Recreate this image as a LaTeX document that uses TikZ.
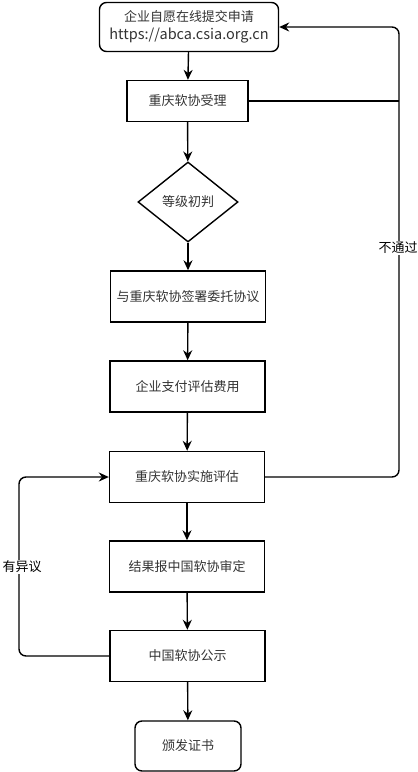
\documentclass[tikz,border=0pt]{standalone}
\usepackage{fontspec}
\setmainfont{Noto Sans CJK SC}
\usetikzlibrary{arrows.meta,shapes.geometric}

\begin{document}
\begin{tikzpicture}
        [x=1pt,y=-1pt,line width=1.4pt,
         every node/.style={font=\fontsize{13}{15}\selectfont,text=black!80},
         stepbox/.style={draw,minimum width=155pt,minimum height=51pt,inner sep=0},
         endbox/.style={draw,rounded corners=7pt,inner sep=0},
         judge/.style={draw,diamond,aspect=1.25,minimum width=100pt,minimum height=80pt,inner sep=0},
         flow/.style={-{Stealth[length=10pt,width=9pt]}},
         tag/.style={fill=white,inner sep=1pt,text=black}]

        \useasboundingbox (0,0) rectangle (418,772);

        \node[endbox,minimum width=179pt,minimum height=49pt,align=center] (apply) at (189, 27)
                {企业自愿在线提交申请\\[3pt]{\fontsize{14.5}{15}\selectfont https://abca.csia.org.cn}};
        \node[stepbox,minimum width=121pt,minimum height=41pt] (accept) at (187.5, 101) {重庆软协受理};
        \node[judge] (check) at (188, 202) {等级初判};
        \node[stepbox] (sign) at (188, 296.5) {与重庆软协签署委托协议};
        \node[stepbox] (pay) at (187.5, 386.5) {企业支付评估费用};
        \node[stepbox] (eval) at (187, 477) {重庆软协实施评估};
        \node[stepbox] (audit) at (187, 566.5) {结果报中国软协审定};
        \node[stepbox] (notice) at (187.5, 656) {中国软协公示};
        \node[endbox,minimum width=106pt,minimum height=50pt] (cert) at (188, 746) {颁发证书};

        \draw[flow] (apply) -- (accept);
        \draw[flow] (accept) -- (check);
        \draw[flow] (check) -- (sign);
        \draw[flow] (sign) -- (pay);
        \draw[flow] (pay) -- (eval);
        \draw[flow] (eval) -- (audit);
        \draw[flow] (audit) -- (notice);
        \draw[flow] (notice) -- (cert);

        \draw (accept.east) -- (399, 101);
        \draw[flow,rounded corners=7pt] (eval.east) -- (399, 477) -- (399, 27) -- (apply.east);
        \node[tag] (fail) at (398, 248) {不通过};

        \draw[flow,rounded corners=7pt] (notice.west) -- (19, 656) -- (19, 477) -- (eval.west);
        \node[tag] (object) at (22, 567) {有异议};
      \end{tikzpicture}
\end{document}
